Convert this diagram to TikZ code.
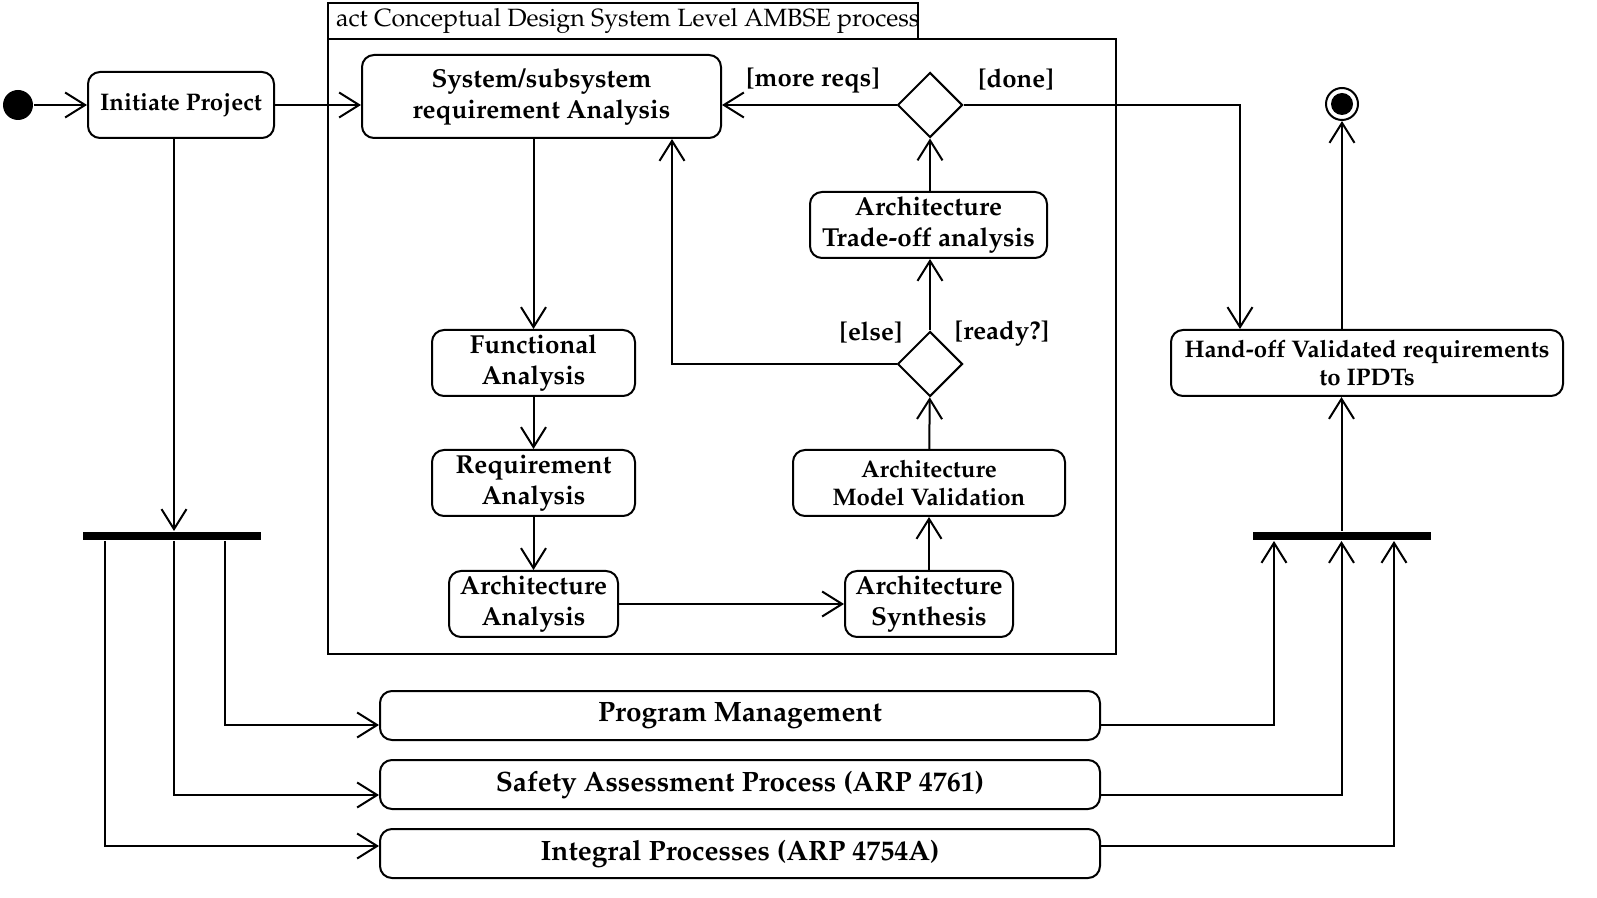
\documentclass[tikz,border=0pt]{standalone}
\usepackage[T1]{fontenc}
\usepackage{mathpazo}
\usetikzlibrary{arrows.meta,shapes.geometric,calc}
\begin{document}
\begin{tikzpicture}[x=0.5pt,y=-0.5pt, line width=1pt,
  >={Straight Barb[length=10pt,width=12.5pt]},
  act/.style={draw, rounded corners=6pt, align=center, inner sep=0pt,
    font=\fontsize{13}{15.5}\selectfont\bfseries},
  actsmall/.style={act, font=\fontsize{12}{14}\selectfont\bfseries},
  actbig/.style={act, font=\fontsize{14}{16}\selectfont\bfseries},
  guard/.style={font=\fontsize{12.9}{14}\selectfont\bfseries, inner sep=0pt},
  decision/.style={draw, diamond, aspect=1, minimum size=32.5pt, inner sep=0pt},
  bar/.style={fill, minimum width=89pt, minimum height=4pt, inner sep=0pt}]
\useasboundingbox (0,0) rectangle (1597,898);
% frame
\draw (328,39) rectangle (1116,654);
\draw (328,3) rectangle (918,39);
\node[anchor=west, inner sep=0pt, font=\fontsize{12.5}{14}\selectfont] (title) at (335,21) {act Conceptual Design System Level AMBSE process};
% nodes
\node[circle, fill, minimum size=15pt, inner sep=0pt] (start) at (18,105) {};
\node[act, font=\fontsize{12}{14}\selectfont\bfseries, minimum width=93pt, minimum height=33pt] (initiate) at (181,105) {Initiate Project};
\node[act, minimum width=179.5pt, minimum height=41.5pt] (sysreq) at (541.5,96.5) {System/subsystem\\requirement Analysis};
\node[decision] (d1) at (930,105) {};
\node[act, minimum width=118.5pt, minimum height=33pt] (trade) at (928.5,225) {Architecture\\Trade-off analysis};
\node[decision] (d2) at (930,364) {};
\node[actsmall, minimum width=136pt, minimum height=33pt] (valid) at (929,483) {Architecture\\Model Validation};
\node[act, minimum width=84pt, minimum height=33pt] (synth) at (929,604) {Architecture\\Synthesis};
\node[act, minimum width=101.5pt, minimum height=33pt] (func) at (533.5,363) {Functional\\Analysis};
\node[act, minimum width=101.5pt, minimum height=33pt] (req) at (533.5,483) {Requirement\\Analysis};
\node[act, minimum width=84.5pt, minimum height=33pt] (archan) at (533.5,604) {Architecture\\Analysis};
\node[actsmall, minimum width=196pt, minimum height=33pt] (handoff) at (1367,363) {Hand-off Validated requirements\\to IPDTs};
\node[actbig, minimum width=360pt, minimum height=24.5pt] (prog) at (740,715.5) {Program Management};
\node[actbig, minimum width=360pt, minimum height=24.5pt] (safety) at (740,784.5) {Safety Assessment Process (ARP 4761)};
\node[actbig, minimum width=360pt, minimum height=24.5pt] (integral) at (740,853.5) {Integral Processes (ARP 4754A)};
\node[bar] (fork) at (172,536) {};
\node[bar] (join) at (1341.5,536) {};
\node[circle, draw, minimum size=16pt, inner sep=0pt] (final) at (1342,104) {};
\fill (final.center) circle (5.5pt);
% guards
\node[guard] (g1) at (813,80) {[more reqs]};
\node[guard] (g2) at (1016,80) {[done]};
\node[guard] (g3) at (871,333) {[else]};
\node[guard] (g4) at (1002,333) {[ready?]};
% helper coordinates
\coordinate (iniout) at ($(initiate.south)+(-7,0)$);
\coordinate (hin) at ($(handoff.north)+(-127,0)$);
\coordinate (elseup) at ($(sysreq.south)+(130.5,0)$);
% connectors
\draw[->] (start) -- (initiate);
\draw[->] (initiate.east) -- (initiate.east -| sysreq.west);
\draw[->] (sysreq.south -| func.north) -- (func.north);
\draw[->] (func) -- (req);
\draw[->] (req) -- (archan);
\draw[->] (archan) -- (synth);
\draw[->] (synth) -- (valid);
\draw[->] (valid) -- (d2);
\draw[->] (d2) -- (d2 |- trade.south);
\draw[->] (trade.north -| d1) -- (d1);
\draw[->] (d1) -- (d1 -| sysreq.east);
\draw[->] (d1.east) -| (hin);
\draw[->] (d2.west) -| (elseup);
\draw[->] (iniout) -- (iniout |- fork.north);
\draw[->] ($(fork.south)+(53,0)$) |- ($(prog.west)+(0,9.5)$);
\draw[->] ($(fork.south)+(2,0)$) |- ($(safety.west)+(0,10.5)$);
\draw[->] ($(fork.south)+(-67,0)$) |- ($(integral.west)+(0,-7.5)$);
\draw[->] ($(prog.east)+(0,9.5)$) -| ($(join.south)+(-67.5,0)$);
\draw[->] ($(safety.east)+(0,10.5)$) -| (join.south);
\draw[->] ($(integral.east)+(0,-7.5)$) -| ($(join.south)+(52.5,0)$);
\draw[->] (join.north) -- (join.north |- handoff.south);
\draw[->] (handoff.north -| final) -- (final);
\end{tikzpicture}
\end{document}
